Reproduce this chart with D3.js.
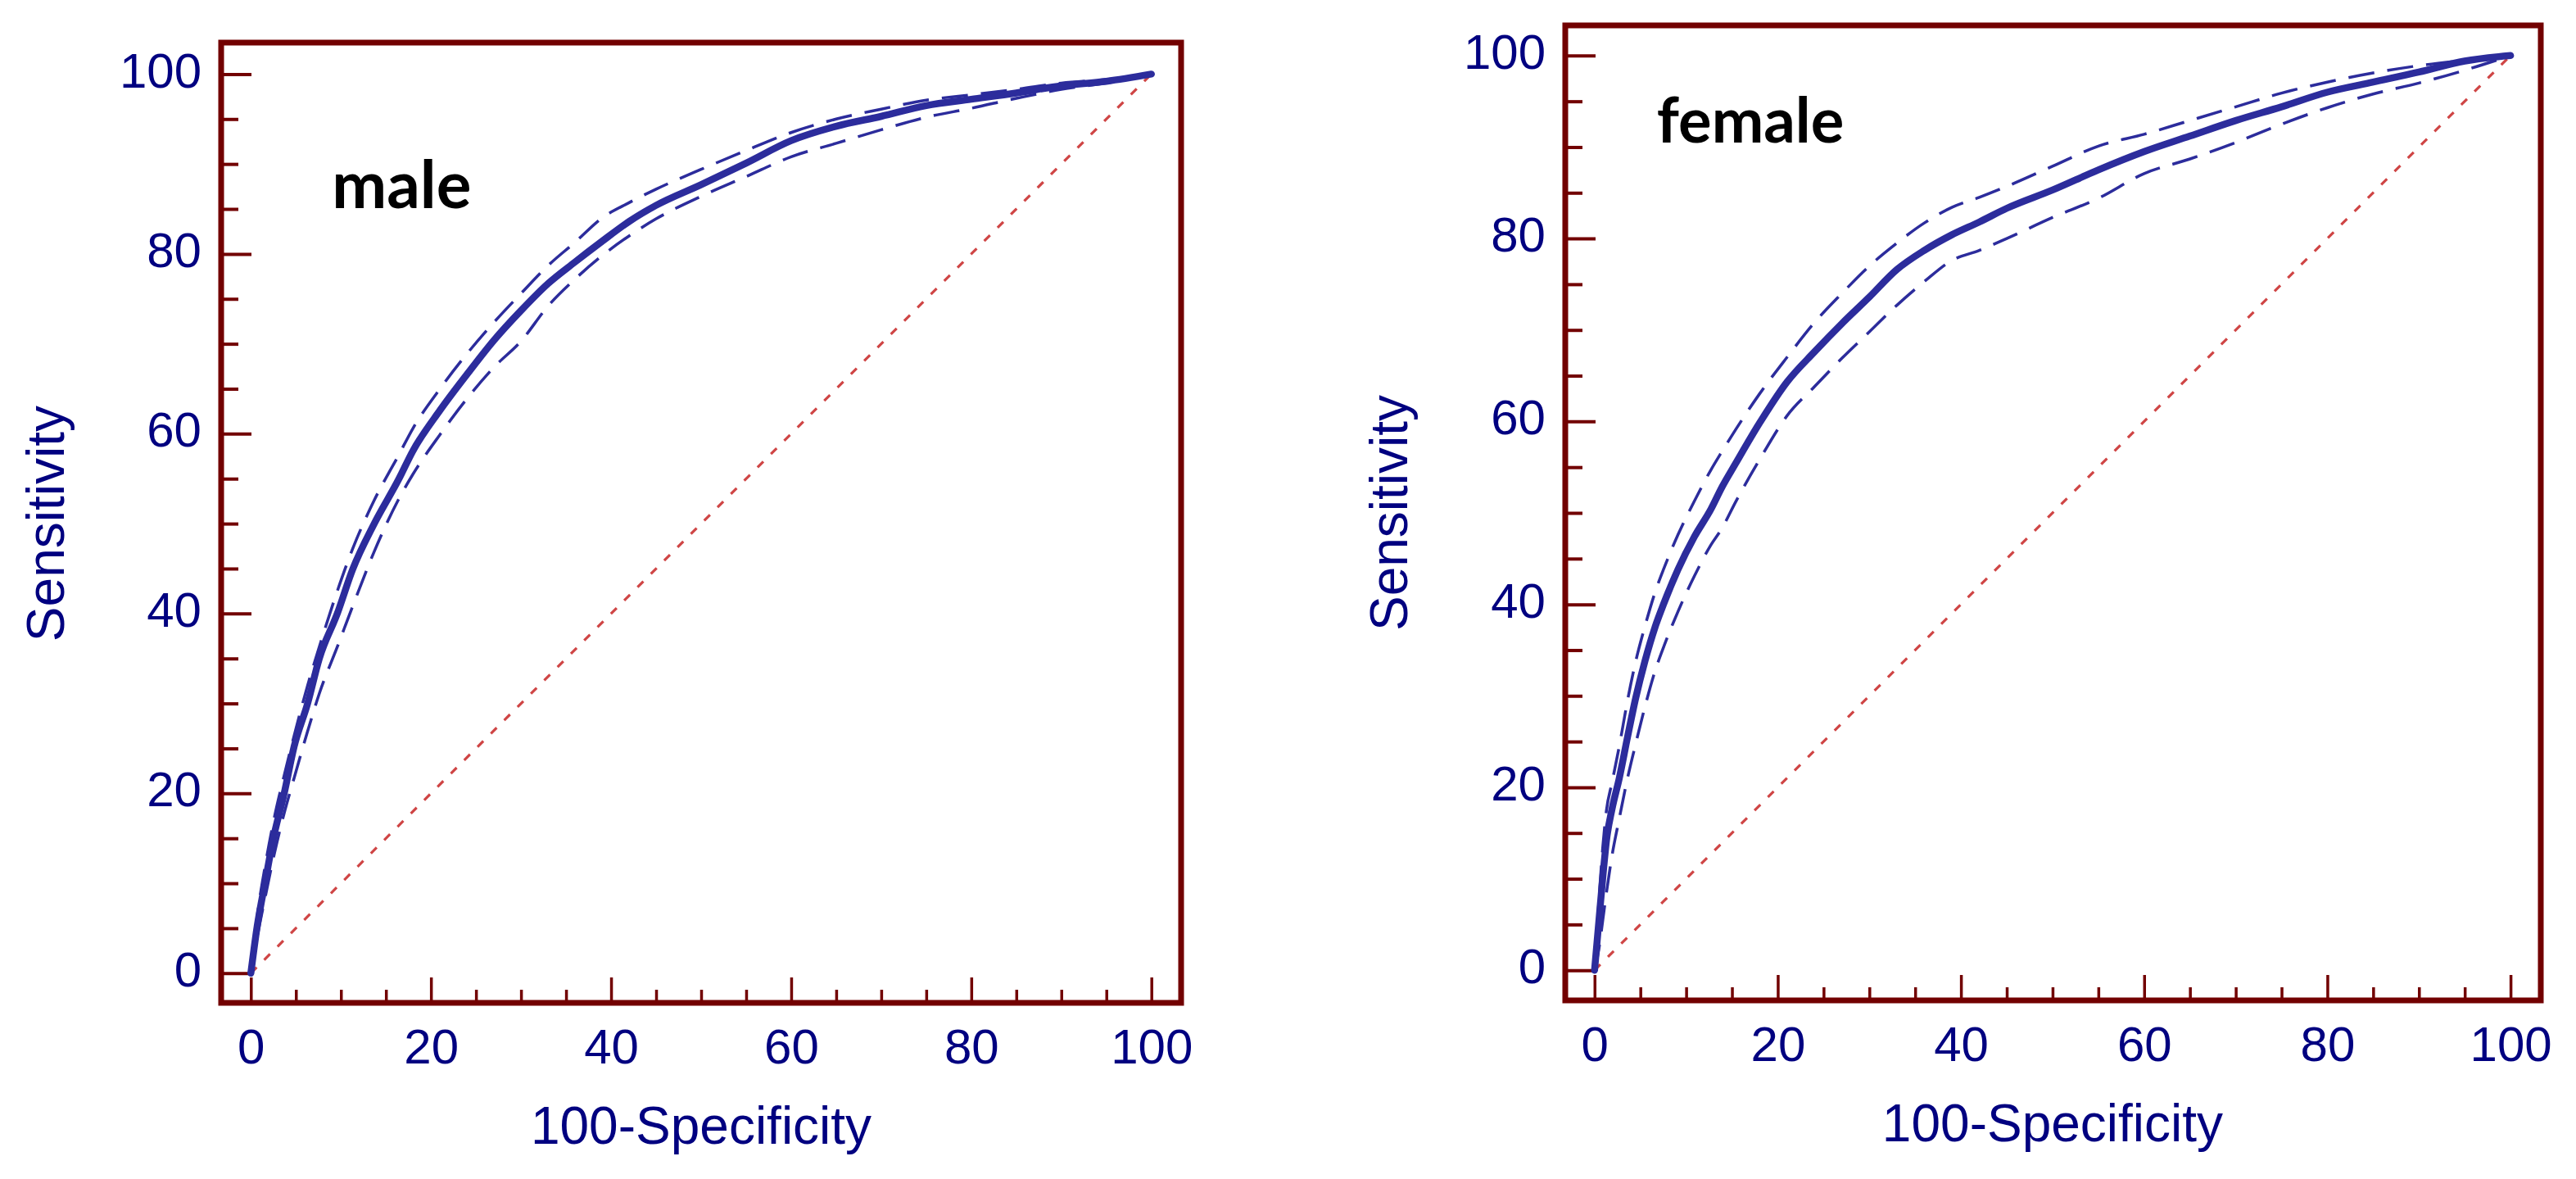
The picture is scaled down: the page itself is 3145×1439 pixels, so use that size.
<!DOCTYPE html>
<html>
<head>
<meta charset="utf-8">
<script src="https://cdn.jsdelivr.net/npm/d3@7"></script>
<style>
  html, body { margin: 0; padding: 0; background: #ffffff; }
  svg { display: block; }
</style>
</head>
<body>
<svg id="chart" width="3145" height="1439"></svg>
<script>
// ---------------- data ----------------
const majorTicks = [0, 20, 40, 60, 80, 100];
const minorTicks = [5, 10, 15, 25, 30, 35, 45, 50, 55, 65, 70, 75, 85, 90, 95];

const xTitle = "100-Specificity";
const yTitle = "Sensitivity";

// male panel
const maleFPR   = [0, 0.7, 1.6, 2.5, 3.7, 4.8, 6.3, 7.6, 9.6, 11.3, 13.7, 16.4, 18, 21, 24, 27, 30, 33, 36, 39, 42, 45, 50, 55, 60, 65, 70, 75, 80, 85, 90, 95, 100];
const maleSens  = [0, 5.2, 10.2, 15, 20, 25.2, 30, 35, 40, 44.9, 50, 54.9, 58.1, 62.6, 66.6, 70.4, 73.7, 76.7, 79.1, 81.4, 83.6, 85.4, 87.7, 90.1, 92.6, 94.2, 95.3, 96.5, 97.2, 97.9, 98.7, 99.2, 100];
const maleUpper = [0, 6.3, 12.0, 16.8, 22.0, 26.4, 32.0, 36.3, 42.5, 47.2, 52.6, 57.6, 60.6, 65.0, 68.9, 72.4, 75.6, 78.7, 81.3, 84.0, 85.7, 87.2, 89.4, 91.5, 93.5, 95.0, 96.1, 97.1, 97.7, 98.3, 99.0, 99.4, 100];
const maleLower = [0, 4.0, 8.5, 12.8, 17.8, 21.7, 26.9, 31.1, 36.3, 40.8, 46.9, 52.7, 55.5, 59.9, 63.9, 67.4, 70.3, 74.2, 77.2, 79.8, 82.0, 83.9, 86.4, 88.6, 90.8, 92.3, 93.8, 95.2, 96.2, 97.3, 98.3, 99.0, 100];

// female panel
const femaleFPR   = [0, 0.5, 0.9, 1.3, 1.9, 2.7, 3.6, 4.5, 5.5, 6.6, 7.6, 9.1, 10.9, 12.7, 13.9, 15.4, 18, 21, 24, 27, 30, 33, 36, 39, 42, 45, 50, 55, 60, 65, 70, 75, 80, 85, 90, 95, 100];
const femaleSens  = [0, 5.7, 10.2, 14.2, 17.6, 21.0, 25.5, 29.8, 33.8, 37.5, 40.2, 43.8, 47.4, 50.4, 52.8, 55.4, 59.8, 64.3, 67.6, 70.7, 73.6, 76.6, 78.7, 80.4, 81.8, 83.3, 85.3, 87.5, 89.5, 91.2, 92.9, 94.4, 96.0, 97.1, 98.2, 99.4, 100];
const femaleUpper = [0, 8.0, 13.5, 17.5, 20.5, 24.5, 29.5, 33.8, 37.6, 41.3, 44.0, 47.6, 51.3, 54.7, 56.7, 59.1, 63.0, 67.0, 70.8, 74.0, 77.0, 79.5, 81.7, 83.4, 84.5, 85.7, 87.9, 90.1, 91.4, 92.9, 94.4, 95.9, 97.1, 98.1, 98.9, 99.5, 100];
const femaleLower = [0, 2.5, 5.5, 8.5, 12.5, 16.6, 21.0, 24.8, 28.8, 32.7, 35.5, 39.2, 43.1, 46.5, 48.3, 51.2, 55.8, 60.6, 63.8, 66.9, 69.8, 72.7, 75.3, 77.6, 78.7, 80.0, 82.3, 84.4, 87.1, 88.7, 90.5, 92.5, 94.3, 95.8, 97.0, 98.4, 100];

const diagonal = [0, 100];

// ---------------- drawing ----------------
const FRAME = "#720000";
const BLUE = "#2C2C9C";
const NAVY = "#000080";
const RED = "#CF4545";
const TICKFONT = "'Liberation Sans', Arial, sans-serif";

const svg = d3.select("#chart");
svg.append("rect").attr("width", 3145).attr("height", 1439).attr("fill", "#fff");

const panels = [
  { name: "male", fpr: maleFPR, sens: maleSens, upper: maleUpper, lower: maleLower,
    xDom: [-3.3, 103.3], xRange: [270, 1442], yDom: [-3.3, 103.5], yRange: [1224, 52],
    label: { x: 9.0, y: 85.1, size: 80 }, xTitleBase: 1396, yTitleX: 78 },
  { name: "female", fpr: femaleFPR, sens: femaleSens, upper: femaleUpper, lower: femaleLower,
    xDom: [-3.2, 103.3], xRange: [1911, 3102], yDom: [-3.3, 103.3], yRange: [1221, 31],
    label: { x: 6.8, y: 90.5, size: 76 }, xTitleBase: 1393, yTitleX: 1718 }
];

panels.forEach(p => {
  const x = d3.scaleLinear().domain(p.xDom).range(p.xRange);
  const y = d3.scaleLinear().domain(p.yDom).range(p.yRange);
  const g = svg.append("g");

  // minor ticks
  const yMinor = g.append("g").attr("transform", `translate(${p.xRange[0]},0)`)
    .call(d3.axisLeft(y).tickValues(minorTicks).tickSize(-21).tickFormat(""));
  const xMinor = g.append("g").attr("transform", `translate(0,${p.yRange[0]})`)
    .call(d3.axisBottom(x).tickValues(minorTicks).tickSize(-16).tickFormat(""));
  [yMinor, xMinor].forEach(a => a.select(".domain").remove());
  yMinor.selectAll("line").attr("stroke", FRAME).attr("stroke-width", 4);
  xMinor.selectAll("line").attr("stroke", FRAME).attr("stroke-width", 3.5);

  // major ticks and labels
  const yAxis = g.append("g").attr("transform", `translate(${p.xRange[0]},0)`)
    .call(d3.axisLeft(y).tickValues(majorTicks).tickSize(-37).tickPadding(24));
  const xAxis = g.append("g").attr("transform", `translate(0,${p.yRange[0]})`)
    .call(d3.axisBottom(x).tickValues(majorTicks).tickSize(-31).tickPadding(31));
  [yAxis, xAxis].forEach(a => {
    a.select(".domain").remove();
    a.selectAll("line").attr("stroke", FRAME);
    a.selectAll("text").attr("fill", NAVY).style("font-family", TICKFONT).style("font-size", "60px");
  });
  yAxis.selectAll("line").attr("stroke-width", 4);
  xAxis.selectAll("line").attr("stroke-width", 3.5);
  yAxis.selectAll("text").attr("dy", "0.26em");

  // diagonal reference line
  g.append("path")
    .datum(diagonal)
    .attr("d", d3.line().x(d => x(d)).y(d => y(d)))
    .attr("fill", "none").attr("stroke", RED).attr("stroke-width", 3.2)
    .attr("stroke-dasharray", "10,13");

  const line = (ys) => d3.line()
    .x((d, i) => x(p.fpr[i]))
    .y((d, i) => y(ys[i]))
    .curve(d3.curveMonotoneX)(ys);

  // confidence bounds
  [p.upper, p.lower].forEach(arr => {
    g.append("path").attr("d", line(arr))
      .attr("fill", "none").attr("stroke", BLUE).attr("stroke-width", 3.5)
      .attr("stroke-dasharray", "32,16");
  });
  // ROC curve
  g.append("path").attr("d", line(p.sens))
    .attr("fill", "none").attr("stroke", BLUE).attr("stroke-width", 8.5)
    .attr("stroke-linejoin", "round").attr("stroke-linecap", "round");

  // frame
  g.append("rect")
    .attr("x", p.xRange[0]).attr("y", p.yRange[1])
    .attr("width", p.xRange[1] - p.xRange[0]).attr("height", p.yRange[0] - p.yRange[1])
    .attr("fill", "none").attr("stroke", FRAME).attr("stroke-width", 7);

  // panel label
  g.append("text")
    .attr("x", x(p.label.x)).attr("y", y(p.label.y))
    .style("font-family", "Lato, 'Open Sans', sans-serif").style("font-weight", 700)
    .style("font-size", p.label.size + "px").attr("fill", "#000")
    .text(p.name);

  // axis titles
  g.append("text")
    .attr("x", (x(0) + x(100)) / 2).attr("y", p.xTitleBase)
    .attr("text-anchor", "middle")
    .style("font-family", TICKFONT).style("font-size", "64px").attr("fill", NAVY)
    .text(xTitle);
  g.append("text")
    .attr("transform", `translate(${p.yTitleX},${(y(0) + y(100)) / 2}) rotate(-90)`)
    .attr("text-anchor", "middle")
    .style("font-family", TICKFONT).style("font-size", "64px").attr("fill", NAVY)
    .text(yTitle);
});
</script>
</body>
</html>
